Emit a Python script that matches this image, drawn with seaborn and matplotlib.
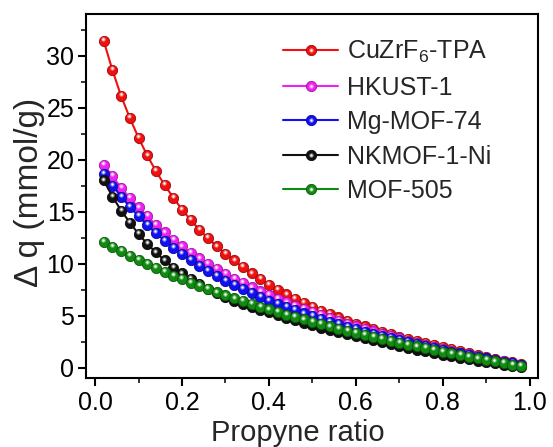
import numpy as np
import pandas as pd
import seaborn as sns
import matplotlib
matplotlib.use("Agg")
import matplotlib.pyplot as plt
from matplotlib import transforms
from matplotlib.lines import Line2D
from matplotlib.legend_handler import HandlerTuple
from matplotlib.colors import to_rgb

# Propyne ratio in the feed (0.02 ... 0.98)
ratio = [round(0.02 * i, 2) for i in range(1, 50)]

materials = ["CuZrF$_6$-TPA", "HKUST-1", "Mg-MOF-74", "NKMOF-1-Ni", "MOF-505"]
colors = ["#f01010", "#f020f0", "#1010f0", "#111111", "#108a10"]

dq_cuzrf6 = [31.4, 28.6, 26.1, 24.0, 22.1, 20.4, 18.9, 17.55, 16.35, 15.2,
             14.2, 13.25, 12.45, 11.65, 10.95, 10.3, 9.65, 9.05, 8.5, 7.98,
             7.5, 7.03, 6.6, 6.2, 5.82, 5.46, 5.13, 4.82, 4.52, 4.24,
             3.97, 3.71, 3.46, 3.22, 2.99, 2.77, 2.56, 2.36, 2.16, 1.96,
             1.77, 1.58, 1.4, 1.22, 1.04, 0.86, 0.68, 0.5, 0.32]
dq_hkust = [19.5, 18.4, 17.3, 16.3, 15.4, 14.55, 13.75, 13.0, 12.3, 11.65,
            11.05, 10.5, 9.98, 9.48, 9.0, 8.55, 8.12, 7.72, 7.33, 6.96,
            6.6, 6.26, 5.93, 5.62, 5.32, 5.03, 4.75, 4.48, 4.22, 3.97,
            3.72, 3.48, 3.25, 3.03, 2.81, 2.6, 2.4, 2.2, 2.0, 1.8,
            1.62, 1.44, 1.27, 1.1, 0.93, 0.77, 0.61, 0.45, 0.29]
dq_mgmof = [18.6, 17.5, 16.45, 15.45, 14.55, 13.7, 12.92, 12.2, 11.53, 10.9,
            10.32, 9.78, 9.27, 8.8, 8.35, 7.93, 7.53, 7.15, 6.79, 6.45,
            6.12, 5.81, 5.51, 5.22, 4.95, 4.68, 4.42, 4.17, 3.93, 3.7,
            3.47, 3.25, 3.04, 2.83, 2.63, 2.44, 2.25, 2.06, 1.88, 1.7,
            1.53, 1.36, 1.2, 1.04, 0.88, 0.72, 0.57, 0.42, 0.27]
dq_nkmof = [18.0, 16.45, 15.1, 13.95, 12.85, 11.9, 11.08, 10.3, 9.62, 9.05,
            8.52, 8.03, 7.58, 7.16, 6.77, 6.45, 6.15, 5.86, 5.58, 5.3,
            5.03, 4.78, 4.53, 4.29, 4.06, 3.84, 3.62, 3.41, 3.2, 3.0,
            2.8, 2.61, 2.42, 2.24, 2.06, 1.89, 1.72, 1.56, 1.4, 1.24,
            1.09, 0.94, 0.8, 0.66, 0.53, 0.4, 0.27, 0.15, 0.05]
dq_mof505 = [12.1, 11.63, 11.2, 10.75, 10.35, 9.95, 9.57, 9.2, 8.84, 8.5,
             8.17, 7.85, 7.54, 7.24, 6.95, 6.66, 6.38, 6.11, 5.85, 5.59,
             5.34, 5.1, 4.86, 4.63, 4.4, 4.18, 3.96, 3.75, 3.54, 3.34,
             3.14, 2.95, 2.76, 2.57, 2.39, 2.21, 2.03, 1.86, 1.69, 1.52,
             1.36, 1.2, 1.04, 0.89, 0.74, 0.59, 0.44, 0.29, 0.14]

series = [dq_cuzrf6, dq_hkust, dq_mgmof, dq_nkmof, dq_mof505]

df = pd.concat(
    [pd.DataFrame({"ratio": ratio, "dq": vals, "material": name})
     for name, vals in zip(materials, series)],
    ignore_index=True,
)

sns.set_style("ticks")
plt.rcParams["font.family"] = ["Liberation Sans", "DejaVu Sans"]
plt.rcParams["mathtext.fontset"] = "custom"
plt.rcParams["mathtext.rm"] = "Liberation Sans"
plt.rcParams["mathtext.it"] = "Liberation Sans:italic"

W, H = 553, 447
fig = plt.figure(figsize=(W / 100, H / 100), dpi=100)
ax = fig.add_axes([85.5 / W, 1 - 378 / H, 452 / W, 364 / H])

MS = 7.4
palette = dict(zip(materials, colors))
sns.lineplot(data=df, x="ratio", y="dq", hue="material", hue_order=materials,
             palette=palette, marker="o", markersize=MS, linewidth=1.5,
             legend=False, ax=ax, sort=False)


def shade(c, f):
    r = np.array(to_rgb(c))
    if f < 0:
        return tuple(r * (1 + f))
    return tuple(r + (1 - r) * f)


# sphere-like markers: dark rim, soft highlight and a white glint
glint = transforms.offset_copy(ax.transData, fig=fig, x=-0.6, y=1.8, units="dots")
handles = []
for i, (line, name, c, vals) in enumerate(zip(ax.lines, materials, colors, series)):
    line.set_zorder(3 + i)
    line.set_markeredgecolor(shade(c, -0.35))
    line.set_markeredgewidth(0.6)
    ax.plot(ratio, vals, ls="none", marker="o", ms=3.2, mfc=shade(c, 0.45),
            mec="none", transform=glint, zorder=3 + i + 0.3)
    ax.plot(ratio, vals, ls="none", marker="o", ms=1.6, mfc="white",
            mec="none", transform=glint, zorder=3 + i + 0.4)
    h_ball = Line2D([], [], color=c, lw=1.5, marker="o", ms=MS,
                    mfc=c, mec=shade(c, -0.35), mew=0.6)
    h_core = Line2D([], [], ls="none", marker="o", ms=3.2,
                    mfc=shade(c, 0.45), mec="none")
    h_dot = Line2D([], [], ls="none", marker="o", ms=1.6, mfc="white", mec="none")
    handles.append((h_ball, h_core, h_dot))

ax.legend(handles, materials, handler_map={tuple: HandlerTuple(ndivide=1, pad=0)},
          loc="upper left", bbox_to_anchor=(273 / W, 1 - 29 / H),
          bbox_transform=fig.transFigure, frameon=False,
          fontsize=18, handlelength=2.2, handletextpad=0.36, labelspacing=0.42,
          borderaxespad=0, borderpad=0.4)

ax.set_xlim(-0.022, 1.018)
ax.set_ylim(-1.0, 34.0)
ax.set_xticks([0.0, 0.2, 0.4, 0.6, 0.8, 1.0])
ax.set_yticks([0, 5, 10, 15, 20, 25, 30])
ax.xaxis.set_minor_locator(matplotlib.ticker.MultipleLocator(0.1))
ax.yaxis.set_minor_locator(matplotlib.ticker.MultipleLocator(2.5))
ax.xaxis.set_major_formatter(matplotlib.ticker.FormatStrFormatter("%.1f"))

for sp in ax.spines.values():
    sp.set_linewidth(1.5)
    sp.set_color("black")
ax.tick_params(which="major", direction="out", length=6, width=1.5,
               labelsize=18, colors="black", pad=2)
ax.tick_params(axis="x", which="major", pad=3)
ax.tick_params(which="minor", direction="out", length=3.5, width=1.3)
ax.tick_params(top=False, right=False, which="both")

ax.set_xlabel("Propyne ratio", fontsize=21)
ax.set_ylabel("Δ q (mmol/g)", fontsize=24)
ax.xaxis.set_label_coords(0.47, -0.113)
ax.yaxis.set_label_coords(-0.089, 0.51)

fig.savefig("out.png", dpi=100, facecolor="white")
